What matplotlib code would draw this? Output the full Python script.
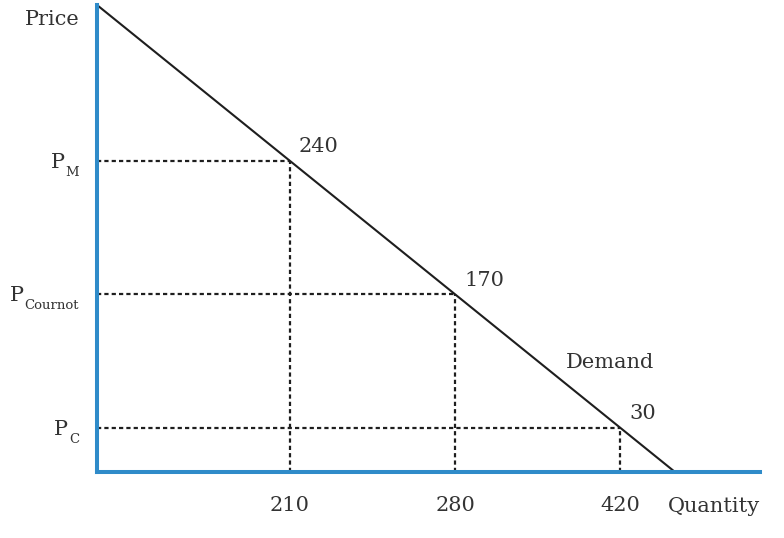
import numpy as np
import matplotlib

matplotlib.use("Agg")
import matplotlib.pyplot as plt


QUANTITIES = [210, 280, 420]
PRICES = [240, 170, 30]
PRICE_NAMES = ["M", "Cournot", "C"]

# schematic layout: demand runs from (0, 1) to (1, 0), equilibria evenly spaced on it
FIRST = 0.334
STEP = 0.2855
X_MAX = 663 / 578

TEXT = "#333333"
BLUE = "#2f8bc9"
INK = "#1e1e1e"

plt.rcParams["font.family"] = ["DejaVu Serif"]

fig = plt.figure(figsize=(7.84, 5.38), dpi=100)
ax = fig.add_axes([97 / 784, 66 / 538, 663 / 784, 467 / 538])
ax.set_xlim(0, X_MAX)
ax.set_ylim(0, 1)

slots = FIRST + STEP * np.arange(len(QUANTITIES))
levels = 1 - slots

ax.plot([0, 1], [1, 0], color=INK, lw=1.5, solid_capstyle="butt", clip_on=False, zorder=3)

for x, y, p, name in zip(slots, levels, PRICES, PRICE_NAMES):
    ax.plot([0, x], [y, y], color=INK, lw=1.6, dashes=(1.9, 1.4), zorder=2)
    ax.plot([x, x], [0, y], color=INK, lw=1.6, dashes=(1.9, 1.4), zorder=2)
    ax.annotate(str(p), (x, y), xytext=(9, 8.5), textcoords="offset pixels",
                ha="left", va="baseline", fontsize=15, color=TEXT)
    sub = ax.annotate(name, (0, y), xycoords=("axes fraction", "data"),
                      xytext=(-18, -15), textcoords="offset pixels",
                      ha="right", va="baseline", fontsize=9.5, color=TEXT)
    ax.annotate("P", (0, 0), xycoords=sub, xytext=(-1, 11), textcoords="offset pixels",
                ha="right", va="baseline", fontsize=15, color=TEXT)

ax.text(0.811, 0.223, "Demand", ha="left", va="baseline", fontsize=15, color=TEXT)

ax.set_xticks(slots, [str(q) for q in QUANTITIES])
ax.set_yticks([])
ax.tick_params(axis="x", length=0, pad=17, labelsize=15, labelcolor=TEXT)

for side in ["top", "right"]:
    ax.spines[side].set_visible(False)
for side in ["left", "bottom"]:
    ax.spines[side].set_color(BLUE)
    ax.spines[side].set_linewidth(2.9)
    ax.spines[side].set_capstyle("projecting")
    ax.spines[side].set_zorder(4)

fig.text(80 / 784, 1 - 25 / 538, "Price", ha="right", va="baseline", fontsize=15, color=TEXT)
fig.text(668 / 784, 1 - 512 / 538, "Quantity", ha="left", va="baseline", fontsize=15, color=TEXT)

fig.savefig("out.png", dpi=100)
